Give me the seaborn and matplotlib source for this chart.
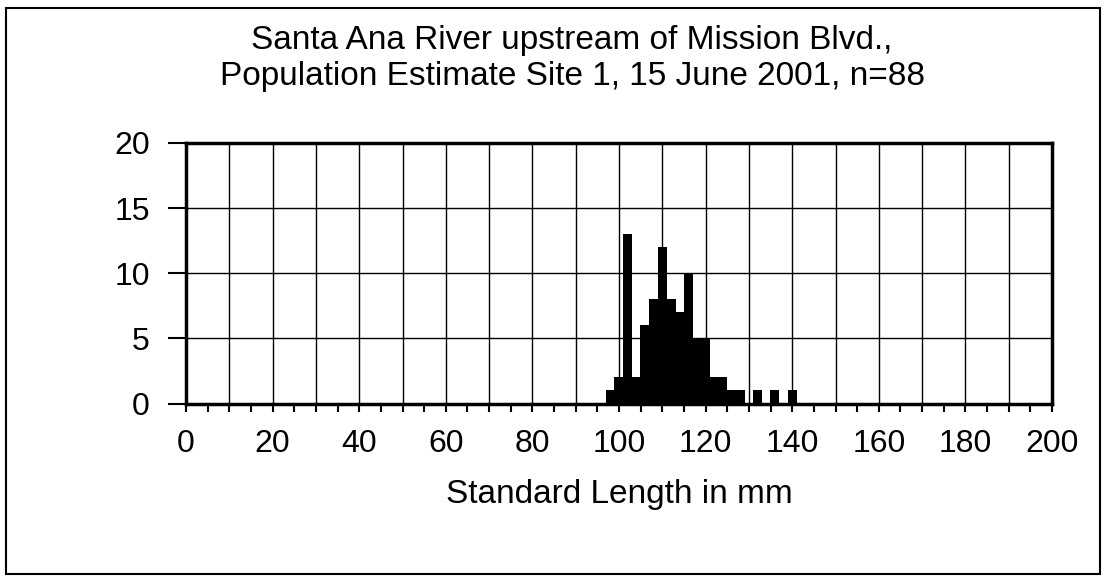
import matplotlib
matplotlib.use("Agg")
import matplotlib.pyplot as plt
from matplotlib.ticker import MultipleLocator
from matplotlib.patches import Rectangle
import seaborn as sns
import pandas as pd

# Data: 2 mm length bins (bin centres) and fish counts
length_bins = [98, 100, 102, 104, 106, 108, 110, 112, 114, 116, 118, 120,
               122, 124, 126, 128, 130, 132, 134, 136, 138, 140]
counts = [1, 2, 13, 2, 6, 8, 12, 8, 7, 10, 5, 5,
          2, 2, 1, 1, 0, 1, 0, 1, 0, 1]
x_tick_values = [0, 20, 40, 60, 80, 100, 120, 140, 160, 180, 200]
x_tick_labels = ["0", "20", "40", "60", "80", "100", "120", "140", "160", "180", "200"]
y_tick_values = [0, 5, 10, 15, 20]
y_tick_labels = ["0", "5", "10", "15", "20"]

title_line1 = "Santa Ana River upstream of Mission Blvd.,"
title_line2 = "Population Estimate Site 1, 15 June 2001, n=88"
xlabel = "Standard Length in mm"

sns.set_style("white")
plt.rcParams["font.family"] = ["Liberation Sans", "DejaVu Sans"]

df = pd.DataFrame({"length": length_bins, "count": counts})

fig = plt.figure(figsize=(11.05, 5.76), dpi=100)
ax = fig.add_axes([186 / 1105, 1 - 403.5 / 576, (1052 - 186) / 1105, (403.5 - 143) / 576])

sns.barplot(data=df, x="length", y="count", native_scale=True, color="black",
            width=1.05, linewidth=0, saturation=1, ax=ax, zorder=3)

ax.set_xlim(0, 200)
ax.set_ylim(0, 20)

# labelled ticks every 20, unlabelled minor ticks every 5, grid every 10
ax.set_xticks(x_tick_values, x_tick_labels)
ax.xaxis.set_minor_locator(MultipleLocator(5))
ax.set_yticks(y_tick_values, y_tick_labels)

for gx in range(10, 200, 10):
    ax.axvline(gx, color="black", linewidth=1.0, zorder=1)
for gy in y_tick_values[1:-1]:
    ax.axhline(gy, color="black", linewidth=1.0, zorder=1)

for s in ax.spines.values():
    s.set_visible(True)
    s.set_color("black")
    s.set_linewidth(2.5)
    s.set_zorder(5)

ax.tick_params(axis="x", which="both", direction="out", length=6, width=1.5,
               bottom=True, labelsize=23, pad=12, colors="black")
ax.tick_params(axis="y", which="major", direction="out", length=13, width=1.5,
               left=True, labelsize=23, pad=13, colors="black")

ax.set_xlabel(xlabel, fontsize=24, labelpad=15, color="black")
ax.set_ylabel("")

fig.text(572 / 1105, 1 - 41 / 576, title_line1, ha="center", va="center",
         fontsize=24, color="black")
fig.text(572 / 1105, 1 - 77 / 576, title_line2, ha="center", va="center",
         fontsize=24, color="black")

fig.patches.append(Rectangle((6 / 1105, 1 - 574 / 576), (1100 - 6) / 1105, (574 - 8) / 576,
                             transform=fig.transFigure, fill=False, edgecolor="black",
                             linewidth=1.5, zorder=10))

fig.savefig("out.png", dpi=100)
